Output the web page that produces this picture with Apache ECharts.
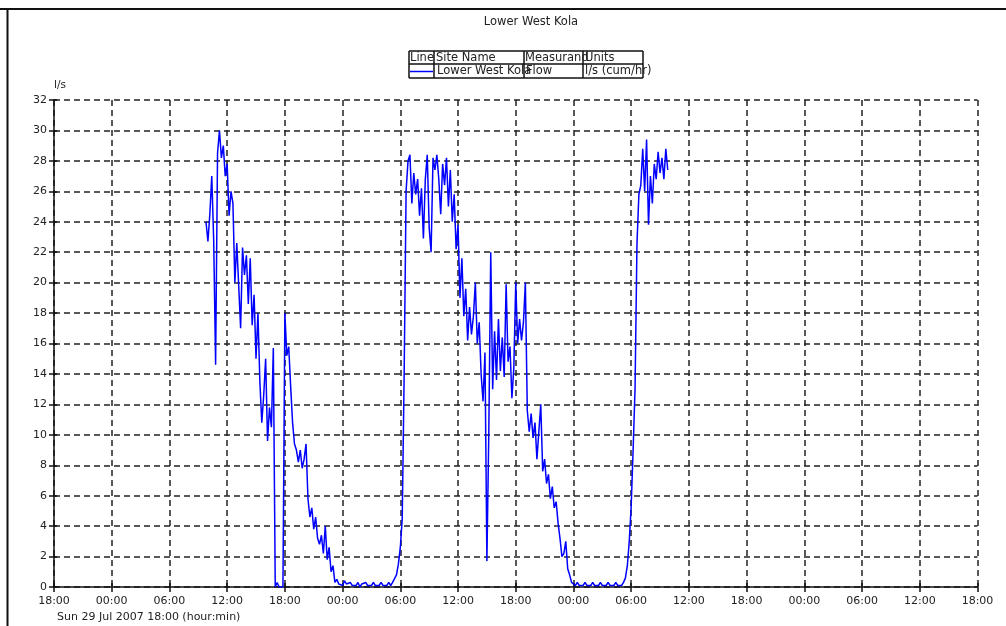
<!DOCTYPE html>
<html>
<head>
<meta charset="utf-8">
<script src="https://cdn.jsdelivr.net/npm/echarts@6/dist/echarts.min.js"></script>
<style>
html,body{margin:0;padding:0;background:#fff;}
#c{width:1006px;height:626px;}
</style>
</head>
<body>
<div id="c"></div>
<script>
// ---- data ----
const chartTitle = 'Lower West Kola';
const xTickLabels = ['18:00','00:00','06:00','12:00','18:00','00:00','06:00','12:00','18:00','00:00','06:00','12:00','18:00','00:00','06:00','12:00','18:00'];
const xStepHours = 6;
const startLabel = 'Sun 29 Jul 2007 18:00 (hour:min)';
const yUnit = 'l/s';
const legendHeader = ['Line', 'Site Name', 'Measurand', 'Units'];
const legendRow = ['Lower West Kola', 'Flow', 'l/s (cum/hr)'];
// flow samples: first sample at startHour (hours after Sun 18:00), one sample every stepHour
const startHour = 15.8;
const stepHour = 0.2;
const flow = [
  24.0, 22.7, 24.5, 27.0, 22.8, 14.6, 28.5, 30.0, 28.2, 29.0,
  27.0, 27.8, 24.4, 26.0, 25.2, 20.0, 22.6, 19.8, 17.0, 22.3,
  20.5, 21.8, 18.6, 21.6, 17.2, 19.2, 15.0, 18.0, 13.5, 10.8,
  12.6, 15.0, 9.6, 11.8, 10.5, 15.7, 0.0, 0.3, 0.0, 0.1,
  0.0, 18.0, 15.2, 15.8, 13.2, 10.8, 9.4, 9.0, 8.2, 9.0,
  7.8, 8.4, 9.4, 5.8, 4.6, 5.2, 3.8, 4.6, 3.2, 2.8,
  3.4, 2.2, 4.0, 1.8, 2.6, 1.0, 1.4, 0.3, 0.5, 0.2,
  0.2, 0.1, 0.4, 0.2, 0.1, 0.3, 0.1, 0.2, 0.1, 0.3,
  0.0, 0.2, 0.1, 0.3, 0.1, 0.2, 0.1, 0.3, 0.1, 0.2,
  0.1, 0.3, 0.1, 0.2, 0.1, 0.3, 0.1, 0.3, 0.2, 0.8,
  1.5, 2.6, 4.5, 14.0, 26.0, 28.0, 28.4, 25.2, 27.2, 25.8,
  26.8, 24.4, 26.2, 22.9, 26.8, 28.4, 23.6, 22.0, 28.2, 27.4,
  28.4, 26.8, 24.5, 27.8, 26.4, 28.2, 25.0, 27.4, 24.0, 25.8,
  22.2, 23.8, 19.0, 21.6, 17.8, 19.6, 16.2, 18.4, 16.6, 17.8,
  20.0, 16.0, 17.4, 14.0, 12.2, 15.4, 1.7, 10.2, 22.0, 13.0,
  16.8, 13.6, 17.6, 14.2, 16.4, 13.8, 19.9, 14.8, 15.8, 12.4,
  14.4, 20.0, 16.0, 17.6, 16.2, 17.4, 20.0, 11.6, 10.2, 11.4,
  9.8, 10.8, 8.4, 10.2, 12.0, 7.6, 8.4, 6.8, 7.4, 5.8,
  6.6, 5.2, 5.6, 4.2, 3.2, 2.0, 2.2, 3.0, 1.2, 0.8,
  0.3, 0.2, 0.1, 0.3, 0.1, 0.2, 0.1, 0.3, 0.1, 0.2,
  0.1, 0.3, 0.1, 0.2, 0.1, 0.3, 0.1, 0.2, 0.1, 0.3,
  0.1, 0.2, 0.1, 0.3, 0.1, 0.2, 0.1, 0.3, 0.6, 1.4,
  3.0, 5.3, 9.0, 13.0, 22.5, 25.8, 26.4, 28.8, 26.0, 29.4,
  23.8, 27.0, 25.2, 27.8, 26.8, 28.6, 27.2, 28.2, 26.8, 28.8, 27.4
];

// ---- chart ----
const FONT = 'DejaVu Sans';
const TXT = '#222';
const xMax = xStepHours * (xTickLabels.length - 1);
const seriesData = flow.map((v, i) => [+(startHour + i * stepHour).toFixed(2), v]);
const gridDash = { color: '#222', width: 1.5, type: [6, 4] };

const chart = echarts.init(document.getElementById('c'), null, { renderer: 'canvas' });

const L = { y1: 51, y2: 64, y3: 78, cols: [409, 434, 524, 583, 643] };
const lineStyleBlack = { stroke: '#111', lineWidth: 1.5 };
const legendGraphics = [];
[L.y1, L.y2, L.y3].forEach(y => legendGraphics.push({
  type: 'line', shape: { x1: L.cols[0], y1: y, x2: L.cols[4], y2: y }, style: lineStyleBlack
}));
L.cols.forEach(x => legendGraphics.push({
  type: 'line', shape: { x1: x, y1: L.y1, x2: x, y2: L.y3 }, style: lineStyleBlack
}));
const hdrX = [410, 436, 525, 585];
legendHeader.forEach((t, i) => legendGraphics.push({
  type: 'text', x: hdrX[i], y: (L.y1 + L.y2) / 2 + 0.5,
  style: { text: t, font: '11.5px ' + FONT, fill: TXT, textVerticalAlign: 'middle', textBaseline: 'middle' }
}));
legendGraphics.push({
  type: 'line', shape: { x1: L.cols[0] + 1, y1: 71.5, x2: L.cols[1] - 1, y2: 71.5 },
  style: { stroke: '#0000ff', lineWidth: 1.5 }
});
const rowX = [437, 526, 585];
legendRow.forEach((t, i) => legendGraphics.push({
  type: 'text', x: rowX[i], y: (L.y2 + L.y3) / 2 + 0.5,
  style: { text: t, font: '11.5px ' + FONT, fill: TXT, textVerticalAlign: 'middle', textBaseline: 'middle' }
}));

const option = {
  animation: false,
  backgroundColor: '#fff',
  title: {
    text: chartTitle, left: 526, top: 11, textAlign: 'center',
    textStyle: { fontFamily: FONT, fontSize: 11.5, fontWeight: 'normal', color: TXT }
  },
  grid: { left: 54, right: 28.5, top: 100, bottom: 39, containLabel: false },
  xAxis: [{
    type: 'value', min: 0, max: xMax, interval: xStepHours,
    axisLine: { show: true, onZero: false, lineStyle: { color: '#111', width: 1.5 } },
    axisTick: { show: true, length: 5, lineStyle: { color: '#111', width: 1.5 } },
    axisLabel: {
      margin: 9, fontFamily: FONT, fontSize: 11, color: TXT,
      formatter: v => xTickLabels[Math.round(v / xStepHours)] || ''
    },
    splitLine: { show: true, lineStyle: gridDash }
  }, {
    type: 'value', min: 0, max: xMax, interval: xStepHours, position: 'bottom',
    axisLine: { show: false, onZero: false },
    axisTick: { show: true, inside: true, length: 4, lineStyle: { color: '#111', width: 1.5 } },
    axisLabel: { show: false }, splitLine: { show: false }
  }],
  yAxis: [{
    type: 'value', min: 0, max: 32, interval: 2,
    name: yUnit, nameLocation: 'end', nameGap: 9,
    nameTextStyle: { fontFamily: FONT, fontSize: 10.5, color: TXT, align: 'left' },
    axisLine: { show: true, onZero: false, lineStyle: { color: '#111', width: 1.5 } },
    axisTick: { show: true, length: 5, lineStyle: { color: '#111', width: 1.5 } },
    axisLabel: { margin: 7, fontFamily: FONT, fontSize: 11, color: TXT },
    splitLine: { show: true, lineStyle: gridDash }
  }, {
    type: 'value', min: 0, max: 32, interval: 2, position: 'left',
    axisLine: { show: false, onZero: false },
    axisTick: { show: true, inside: true, length: 3, lineStyle: { color: '#111', width: 1.5 } },
    axisLabel: { show: false }, splitLine: { show: false }
  }],
  series: [{
    type: 'line', name: legendRow[0], xAxisIndex: 0, yAxisIndex: 0,
    data: seriesData, showSymbol: false, symbol: 'none',
    lineStyle: { color: '#0000ff', width: 1.5 }, z: 5
  }],
  graphic: [
    { type: 'line', shape: { x1: 0, y1: 9, x2: 1006, y2: 9 }, style: { stroke: '#111', lineWidth: 2 }, z: 100 },
    { type: 'line', shape: { x1: 7.5, y1: 9, x2: 7.5, y2: 626 }, style: { stroke: '#111', lineWidth: 2 }, z: 100 },
    { type: 'text', x: 57, y: 617, style: { text: startLabel, font: '11px ' + FONT, fill: TXT, textBaseline: 'middle', textVerticalAlign: 'middle' } }
  ].concat(legendGraphics)
};
chart.setOption(option);
</script>
</body>
</html>
